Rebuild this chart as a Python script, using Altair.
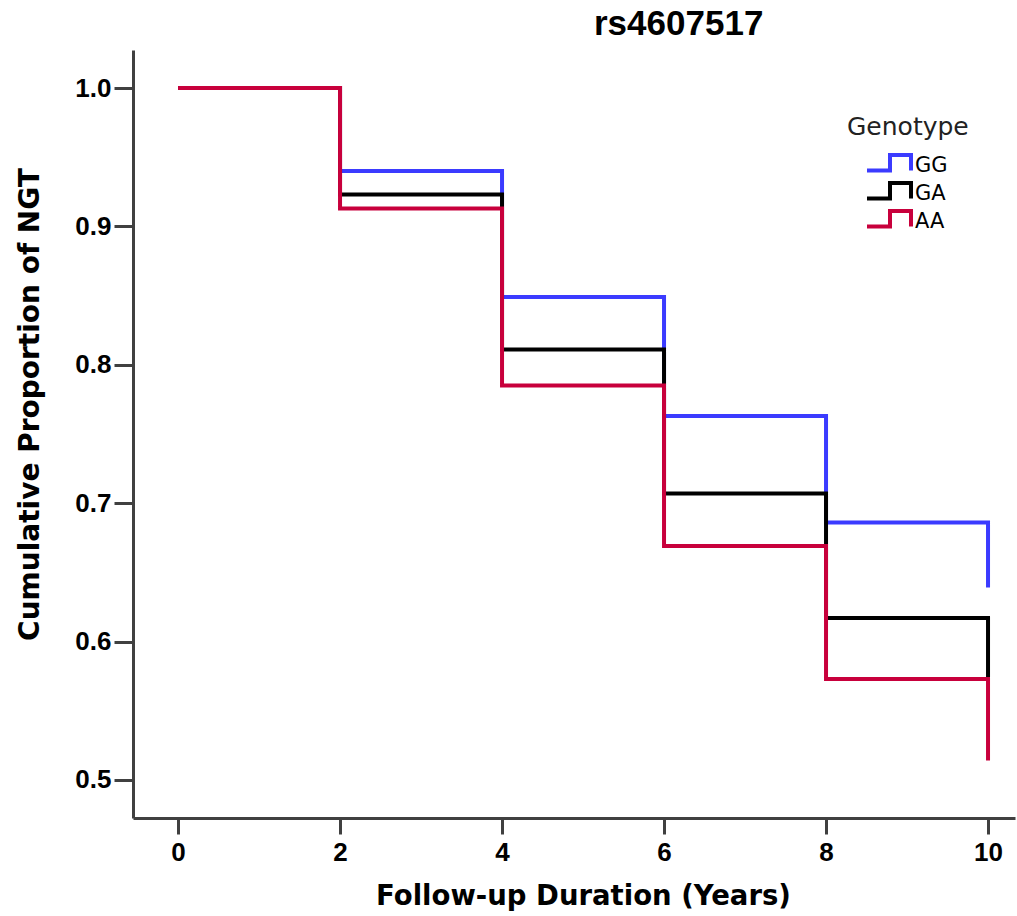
import altair as alt
import pandas as pd

# ---- data ----
times = [0, 2, 4, 6, 8, 10]
genotypes = ["GG", "GA", "AA"]
gg_values = [1.0, 0.940, 0.849, 0.763, 0.686, 0.639]
ga_values = [1.0, 0.923, 0.811, 0.707, 0.617, 0.574]
aa_values = [1.0, 0.913, 0.785, 0.669, 0.573, 0.514]
colors = ["#3b3bff", "#000000", "#c8003c"]
x_ticks = [0, 2, 4, 6, 8, 10]
y_ticks = [0.5, 0.6, 0.7, 0.8, 0.9, 1.0]

rows = []
for g, vals in zip(genotypes, [gg_values, ga_values, aa_values]):
    for t, v in zip(times, vals):
        rows.append({"time": t, "prop": v, "Genotype": g})
df = pd.DataFrame(rows)

# step-shaped legend glyph (unit box is 20px, glyph extends to the right of it)
step_path = "M -1 0.45 H 1.3 V -1.1 H 3.4 V 0.45"

axis_common = dict(
    grid=False,
    domainColor="#404040",
    domainWidth=3,
    tickColor="#404040",
    tickWidth=3,
    labelColor="#000000",
    titleColor="#000000",
    labelFontWeight="bold",
    titleFontWeight="bold",
)

chart = (
    alt.Chart(df)
    .mark_line(interpolate="step-after", strokeWidth=4, clip=True)
    .encode(
        x=alt.X(
            "time:Q",
            scale=alt.Scale(domain=[-0.556, 10.333], nice=False, zero=False),
            axis=alt.Axis(
                values=x_ticks,
                title="Follow-up Duration (Years)",
                tickSize=16,
                labelPadding=5,
                labelFont="Liberation Sans Narrow, Arial Narrow, Liberation Sans",
                labelFontSize=26,
                titleFont="DejaVu Sans",
                titleFontSize=27.5,
                titlePadding=17,
                titleX=450,
                **axis_common,
            ),
        ),
        y=alt.Y(
            "prop:Q",
            scale=alt.Scale(domain=[0.4725, 1.0275], nice=False, zero=False),
            axis=alt.Axis(
                values=y_ticks,
                format=".1f",
                title="Cumulative Proportion of NGT",
                tickSize=19,
                labelPadding=3,
                labelFont="Liberation Sans",
                labelFontSize=26,
                titleFont="DejaVu Sans",
                titleFontSize=28,
                titlePadding=30,
                titleY=354,
                **axis_common,
            ),
        ),
        color=alt.Color(
            "Genotype:N",
            scale=alt.Scale(domain=genotypes, range=colors),
            legend=alt.Legend(
                orient="none",
                legendX=714,
                legendY=65,
                title="Genotype",
                titleFont="DejaVu Sans",
                titleFontWeight="normal",
                titleFontSize=25,
                titleColor="#222222",
                titlePadding=14,
                labelFont="DejaVu Sans",
                labelFontSize=21,
                labelColor="#000000",
                symbolType=step_path,
                symbolSize=400,
                symbolStrokeWidth=4,
                symbolOffset=18,
                labelOffset=26,
                rowPadding=-4,
                padding=0,
            ),
        ),
    )
    .properties(
        width=882,
        height=768,
        title=alt.Title(
            "rs4607517",
            font="Liberation Sans",
            fontSize=35,
            fontWeight="bold",
            color="#000000",
            anchor="start",
            frame="group",
            dx=461,
            offset=8,
        ),
        autosize=alt.AutoSizeParams(type="none"),
        padding={"left": 133, "top": 50, "right": 2, "bottom": 98},
    )
    .configure_view(stroke=None)
)

chart.save("out.html", embed_options={"renderer": "svg", "actions": False})
